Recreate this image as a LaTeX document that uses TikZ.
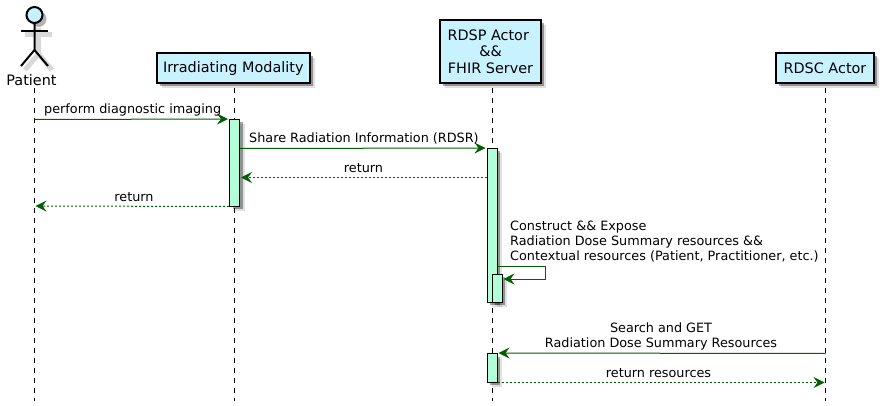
\documentclass[tikz,border=0pt]{standalone}
\usepackage{fontspec}
\setmainfont{DejaVu Sans}
\usetikzlibrary{arrows.meta, shadows}

\definecolor{boxblue}{HTML}{C8F2FF}
\definecolor{barmint}{HTML}{B0FFD8}
\definecolor{msggreen}{HTML}{005F00}

\tikzset{
  softshadow/.style={
    drop shadow={shadow xshift=5pt, shadow yshift=-5pt, fill=black, opacity=0.12},
    drop shadow={shadow xshift=3pt, shadow yshift=-3pt, fill=black, opacity=0.35}},
  every node/.style={font=\fontsize{12.8}{15}\selectfont},
  participant/.style={draw=black, line width=1.5pt, fill=boxblue, softshadow, inner sep=0pt, align=center, font=\fontsize{14.4}{16.5}\selectfont},
  activation/.style={draw=black, line width=1pt, fill=barmint, softshadow, inner sep=0pt, minimum width=10pt},
  lifeline/.style={black, line width=1pt, dash pattern=on 5pt off 5pt},
  msg/.style={msggreen, line width=1pt, shorten >=1pt, -{Stealth[length=11pt, width=11pt, inset=4pt]}},
  reply/.style={msg, dash pattern=on 2pt off 2pt},
  lbl/.style={inner sep=0pt, align=center}
}

\begin{document}
\begin{tikzpicture}[x=1pt, y=-1pt]
  \useasboundingbox (0,0) rectangle (885,406);
  % lifelines
  \foreach \name/\x in {patient/34.5,modality/234.5,server/492,consumer/825.5} {
      \coordinate (\name top) at (\x,88);
      \coordinate (\name end) at (\x,401);
      \draw[lifeline] (\name top) -- (\name end);
    }
  % actor
  \begin{scope}[line width=5pt, black!15, shift={(4,4)}]
    \draw (21,31) -- (48,31);
    \draw (34.5,24) -- (34.5,50) -- (21,66);
    \draw (34.5,50) -- (48,66);
  \end{scope}
  \fill[black!30] (38.5,19) circle (8);
  \draw[line width=2pt, fill=boxblue] (34.5,15) circle (8);
  \draw[line width=2pt] (34.5,23) -- (34.5,50) -- (21,66);
  \draw[line width=2pt] (34.5,50) -- (48,66);
  \draw[line width=2pt] (21,31) -- (48,31);
  \node[lbl, font=\fontsize{14.4}{16.5}\selectfont] (patient) at (31.5,80) {Patient};
  % participants
  \node[participant, minimum width=153pt, minimum height=30pt] (modality) at (233.25,68.25) {Irradiating Modality};
  \node[participant, minimum width=101pt, minimum height=63pt] (server) at (490.5,51.75) {\mbox{RDSP Actor\ }\\\&\&\ \\ FHIR Server};
  \node[participant, minimum width=98pt, minimum height=30pt] (consumer) at (825,68.25) {RDSC Actor};
  % activations
  \node[activation, minimum height=86.5pt] (modality bar) at (234.5,162.75) {};
  \node[activation, minimum height=153.5pt] (server bar) at (492,225.25) {};
  \node[activation, minimum height=28pt] (nested bar) at (497,288) {};
  \node[activation, minimum height=28.5pt] (search bar) at (492,367.75) {};
  % messages
  \coordinate (patient a) at (34.5,119.5);
  \coordinate (patient b) at (34.5,206);
  \coordinate (consumer a) at (825.5,353.5);
  \coordinate (consumer b) at (825.5,382.5);
  \draw[msg] (patient a) -- (modality bar.north west);
  \draw[msg] (modality bar.east |- 0,148.5) -- (server bar.north west);
  \draw[reply] (server bar.west |- 0,177.5) -- (modality bar.east |- 0,177.5);
  \draw[reply] (modality bar.south west) -- (patient b);
  \draw[msg] (server bar.east |- 0,266) -| (545,279) -- (nested bar.east |- 0,279);
  \draw[msg] (consumer a) -- (search bar.north east);
  \draw[reply] (search bar.south east) -- (consumer b);
  % labels
  \node[lbl, anchor=west] (imaging) at (44,110) {perform diagnostic imaging};
  \node[lbl, anchor=west] (share) at (249,138.5) {Share Radiation Information (RDSR)};
  \node[lbl] (return one) at (363.5,168.5) {return};
  \node[lbl] (return two) at (134,197.5) {return};
  \node[lbl, anchor=west, align=left] (construct) at (510,241.5) {Construct \&\& Expose\\Radiation Dose Summary resources \&\&\\Contextual resources (Patient, Practitioner, etc.)};
  \node[lbl] (search) at (661,336) {Search and GET\\Radiation Dose Summary Resources};
  \node[lbl] (return three) at (658.5,373.5) {return resources};
\end{tikzpicture}
\end{document}
